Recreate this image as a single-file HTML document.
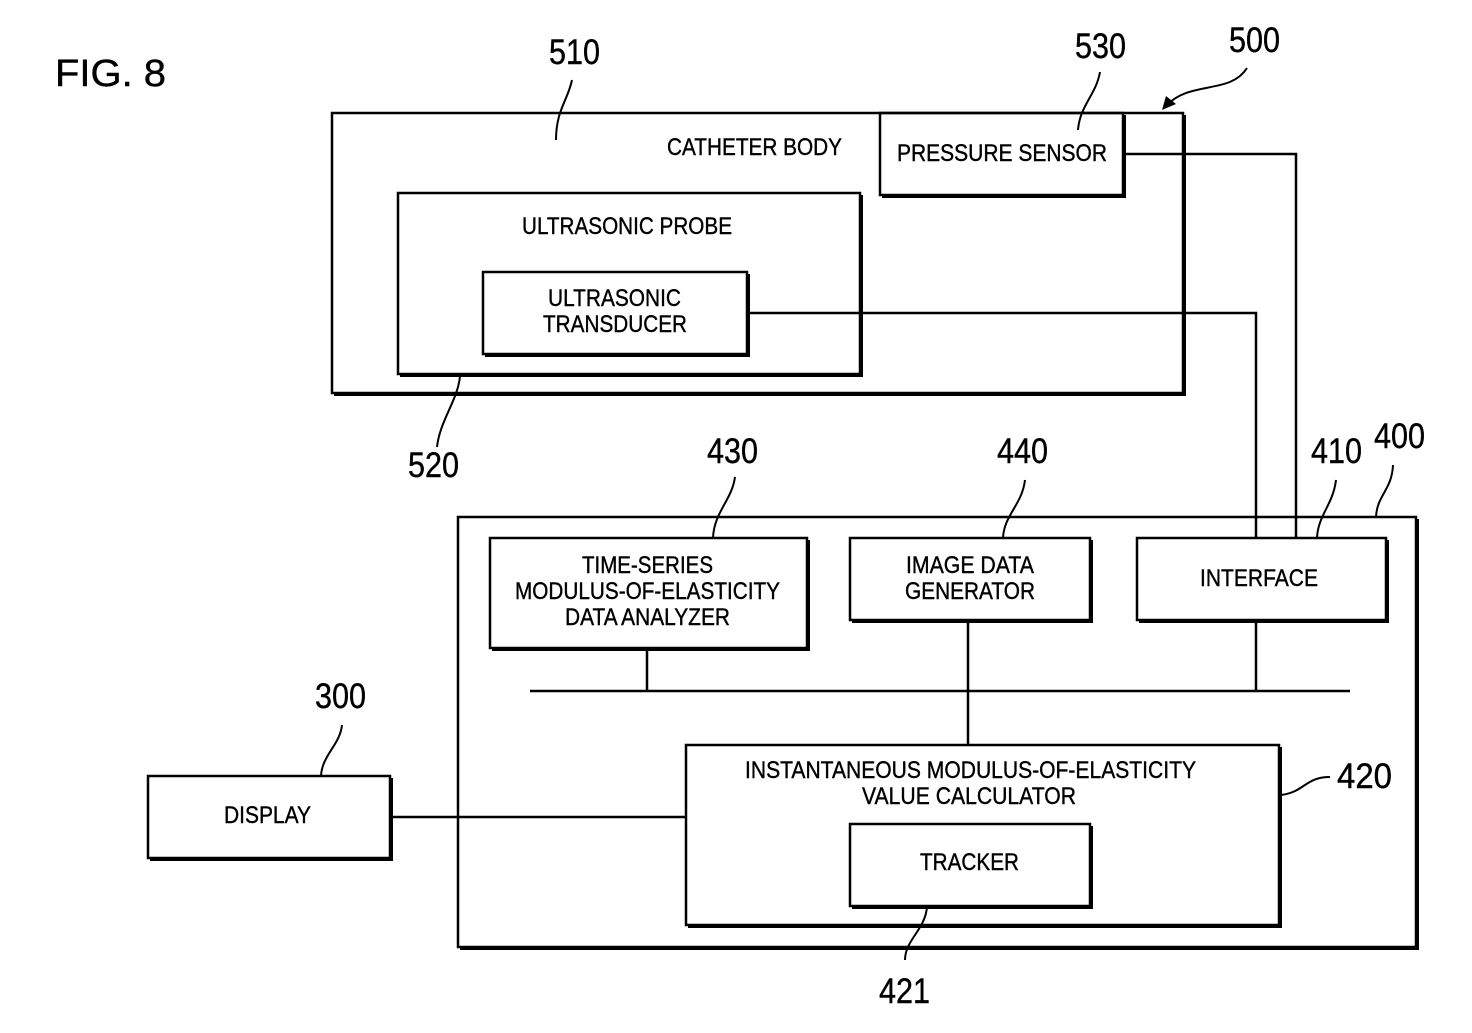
<!DOCTYPE html>
<html><head><meta charset="utf-8"><style>
html,body{margin:0;padding:0;background:#fff;}
svg{display:block;}
text{font-family:"Liberation Sans",Arial,sans-serif;fill:#000;stroke:#000;stroke-width:0.4;}
.b{font-size:24px;}
.n{font-size:35px;}
</style></head><body>
<svg width="1472" height="1033" viewBox="0 0 1472 1033" xmlns="http://www.w3.org/2000/svg">
<g fill="none" stroke="#000" stroke-width="2.5">
<polyline points="1123,154 1296,154 1296,538"/>
<polyline points="747,313 1256,313 1256,538"/>
<line x1="530" y1="691" x2="1350" y2="691"/>
<line x1="647" y1="648" x2="647" y2="691"/>
<line x1="968" y1="620" x2="968" y2="745"/>
<line x1="1256" y1="620" x2="1256" y2="691"/>
<line x1="390" y1="817" x2="686" y2="817"/>
<rect x="332" y="113" width="851" height="280"/>
<rect x="880" y="113" width="243" height="82"/>
<rect x="398" y="193" width="462" height="181"/>
<rect x="483" y="272" width="264" height="82"/>
<rect x="458" y="517" width="958" height="430"/>
<rect x="490" y="538" width="317" height="110"/>
<rect x="850" y="538" width="240" height="82"/>
<rect x="1137" y="538" width="249" height="82"/>
<rect x="686" y="745" width="593" height="180"/>
<rect x="850" y="824" width="240" height="82"/>
<rect x="148" y="776" width="242" height="82"/>
</g>
<g fill="none" stroke="#000" stroke-width="4">
<polyline points="334,394 1184,394 1184,115"/>
<polyline points="882,196 1124,196 1124,115"/>
<polyline points="400,375 861,375 861,195"/>
<polyline points="485,355 748,355 748,274"/>
<polyline points="460,948 1417,948 1417,519"/>
<polyline points="492,649 808,649 808,540"/>
<polyline points="852,621 1091,621 1091,540"/>
<polyline points="1139,621 1387,621 1387,540"/>
<polyline points="688,926 1280,926 1280,747"/>
<polyline points="852,907 1091,907 1091,826"/>
<polyline points="150,859 391,859 391,778"/>
</g>
<g fill="none" stroke="#000" stroke-width="2">
<path d="M572,80 C568,100 556,110 556,140"/>
<path d="M1100,72 C1096,95 1080,105 1078,130"/>
<path d="M1247,68 C1230,95 1190,80 1166,106"/>
<path d="M437,447 C440,420 458,400 460,376"/>
<path d="M735,477 C732,500 714,512 713,538"/>
<path d="M1025,480 C1022,505 1004,515 1003,538"/>
<path d="M1336,480 C1333,505 1318,515 1317,538"/>
<path d="M1393,465 C1392,490 1377,495 1376,517"/>
<path d="M1330,777 C1305,777 1305,792 1281,795"/>
<path d="M342,725 C340,745 322,755 321,776"/>
<path d="M905,960 C905,940 925,930 927,907"/>
</g>
<path d="M1162,110 L1166,96 L1176,104 Z" fill="#000"/>
<text x="55" y="86" style="font-size:38px" textLength="111" lengthAdjust="spacingAndGlyphs">FIG. 8</text>
<g class="n">
<text x="549" y="64" textLength="51" lengthAdjust="spacingAndGlyphs">510</text>
<text x="1075" y="58" textLength="51" lengthAdjust="spacingAndGlyphs">530</text>
<text x="1229" y="52" textLength="51" lengthAdjust="spacingAndGlyphs">500</text>
<text x="408" y="477" textLength="51" lengthAdjust="spacingAndGlyphs">520</text>
<text x="707" y="463" textLength="51" lengthAdjust="spacingAndGlyphs">430</text>
<text x="997" y="463" textLength="51" lengthAdjust="spacingAndGlyphs">440</text>
<text x="1311" y="463" textLength="51" lengthAdjust="spacingAndGlyphs">410</text>
<text x="1374" y="448" textLength="51" lengthAdjust="spacingAndGlyphs">400</text>
<text x="1337" y="788" textLength="55" lengthAdjust="spacingAndGlyphs">420</text>
<text x="315" y="708" textLength="51" lengthAdjust="spacingAndGlyphs">300</text>
<text x="879" y="1003" textLength="51" lengthAdjust="spacingAndGlyphs">421</text>
</g>
<g class="b">
<text x="667" y="155" textLength="175" lengthAdjust="spacingAndGlyphs">CATHETER BODY</text>
<text x="897" y="161" textLength="210" lengthAdjust="spacingAndGlyphs">PRESSURE SENSOR</text>
<text x="522" y="234" textLength="210" lengthAdjust="spacingAndGlyphs">ULTRASONIC PROBE</text>
<text x="548" y="306" textLength="133" lengthAdjust="spacingAndGlyphs">ULTRASONIC</text>
<text x="543" y="332" textLength="144" lengthAdjust="spacingAndGlyphs">TRANSDUCER</text>
<text x="582" y="573" textLength="131" lengthAdjust="spacingAndGlyphs">TIME-SERIES</text>
<text x="515" y="599" textLength="265" lengthAdjust="spacingAndGlyphs">MODULUS-OF-ELASTICITY</text>
<text x="565" y="625" textLength="165" lengthAdjust="spacingAndGlyphs">DATA ANALYZER</text>
<text x="906" y="573" textLength="128" lengthAdjust="spacingAndGlyphs">IMAGE DATA</text>
<text x="905" y="599" textLength="130" lengthAdjust="spacingAndGlyphs">GENERATOR</text>
<text x="1200" y="586" textLength="118" lengthAdjust="spacingAndGlyphs">INTERFACE</text>
<text x="745" y="778" textLength="451" lengthAdjust="spacingAndGlyphs">INSTANTANEOUS MODULUS-OF-ELASTICITY</text>
<text x="862" y="804" textLength="214" lengthAdjust="spacingAndGlyphs">VALUE CALCULATOR</text>
<text x="920" y="870" textLength="99" lengthAdjust="spacingAndGlyphs">TRACKER</text>
<text x="224" y="823" textLength="87" lengthAdjust="spacingAndGlyphs">DISPLAY</text>
</g>
</svg>
</body></html>
